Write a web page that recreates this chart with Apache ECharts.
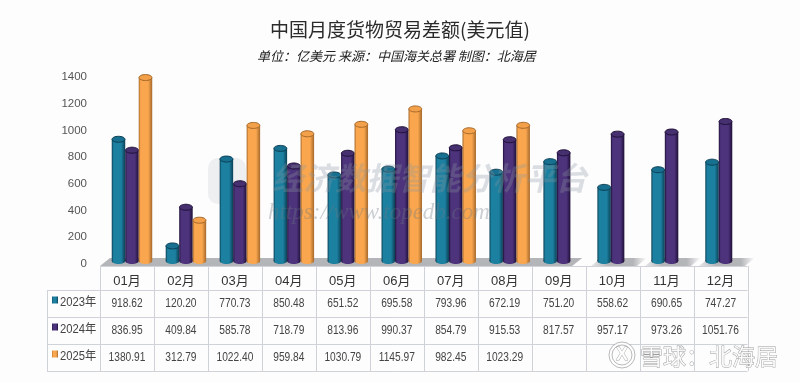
<!DOCTYPE html>
<html>
<head>
<meta charset="utf-8">
<style>
  html, body { margin: 0; padding: 0; background: #fdfdfe; }
  #main { width: 800px; height: 382px; }
</style>
<script src="https://cdn.jsdelivr.net/npm/echarts@6/dist/echarts.min.js"></script>
</head>
<body>
<div id="main"></div>
<script>
const months = ['01月', '02月', '03月', '04月', '05月', '06月', '07月', '08月', '09月', '10月', '11月', '12月'];
const yearNames = ['2023年', '2024年', '2025年'];
const values2023 = [918.62, 120.20, 770.73, 850.48, 651.52, 695.58, 793.96, 672.19, 751.20, 558.62, 690.65, 747.27];
const values2024 = [836.95, 409.84, 585.78, 718.79, 813.96, 990.37, 854.79, 915.53, 817.57, 957.17, 973.26, 1051.76];
const values2025 = [1380.91, 312.79, 1022.40, 959.84, 1030.79, 1145.97, 982.45, 1023.29, null, null, null, null];

const yearValues = [values2023, values2024, values2025];
const edgeColors = ['#0b3f55', '#1f1038', '#a5682a'];
const midColors = ['#1c80a0', '#4d337c', '#f9a64e'];
const capColors = ['#17708f', '#46306f', '#f2a049'];

const FONT = '"Liberation Sans", "Noto Sans CJK SC", sans-serif';
const CJK = '"Noto Sans CJK SC", sans-serif';
const gridLeft = 100, gridTop = 77, gridW = 647.5, gridH = 187;
const colW = gridW / 12;
const tableLeft = 47;
const rowLines = [290, 317, 344, 371];
const tableTop = 266;

function cylinderFill(i) {
  return new echarts.graphic.LinearGradient(0, 0, 1, 0, [
    { offset: 0, color: edgeColors[i] },
    { offset: 0.14, color: midColors[i] },
    { offset: 0.7, color: midColors[i] },
    { offset: 1, color: edgeColors[i] }
  ]);
}

function renderCylinder(params, api) {
  const v = api.value(1);
  if (v == null || isNaN(v)) return;
  const i = params.seriesIndex;
  const pt = api.coord([api.value(0), v]);
  const w = api.size([1, 0])[0] * 0.25;
  const x = pt[0] + (i - 1) * w + 5 - w / 2;
  const top = pt[1] - 2;
  const base = gridTop + gridH - 3;
  const ry = 3;
  const cx = x + w / 2;
  return {
    type: 'group',
    children: [
      { type: 'rect', shape: { x: x, y: top, width: w, height: base - top }, style: { fill: cylinderFill(i) } },
      { type: 'ellipse', shape: { cx: cx, cy: base, rx: w / 2, ry: ry }, style: { fill: cylinderFill(i) } },
      { type: 'ellipse', shape: { cx: cx, cy: top, rx: w / 2 - 0.3, ry: ry }, style: { fill: capColors[i], stroke: edgeColors[i], lineWidth: 1 } }
    ]
  };
}

const graphics = [];
// floor
const floorEnd = gridLeft + colW * 8.75;
graphics.push({
  type: 'polygon', z: 0,
  shape: { points: [[gridLeft, tableTop], [gridLeft + 10, 258], [floorEnd + 10, 258], [floorEnd, tableTop]] },
  style: { fill: '#b4b5b8' }
});
for (let c = 9; c < 12; c++) {
  const a = gridLeft + colW * (c + 0.1);
  const b = gridLeft + colW * (c + 0.95);
  graphics.push({
    type: 'polygon', z: 0,
    shape: { points: [[a, tableTop], [a + 10, 258], [b + 10, 258], [b, tableTop]] },
    style: {
      fill: new echarts.graphic.LinearGradient(0, 0, 1, 0, [
        { offset: 0, color: 'rgba(180,181,184,0.3)' },
        { offset: 0.3, color: '#b4b5b8' },
        { offset: 0.75, color: '#b4b5b8' },
        { offset: 1, color: 'rgba(180,181,184,0)' }
      ])
    }
  });
}
// table lines
const lineStyle = { stroke: '#cfd3d9', lineWidth: 1 };
function hline(x1, x2, y) {
  graphics.push({ type: 'line', z: 1, shape: { x1: x1, y1: y + 0.5, x2: x2, y2: y + 0.5 }, style: lineStyle });
}
function vline(x, y1, y2) {
  const px = Math.round(x) + 0.5;
  graphics.push({ type: 'line', z: 1, shape: { x1: px, y1: y1, x2: px, y2: y2 }, style: lineStyle });
}
hline(gridLeft, gridLeft + gridW, tableTop);
rowLines.forEach(y => hline(tableLeft, gridLeft + gridW, y));
vline(tableLeft, rowLines[0], rowLines[3]);
for (let c = 0; c <= 12; c++) vline(gridLeft + colW * c, tableTop, rowLines[3]);
// table rows, text squeezed a bit like the original
yearNames.forEach((name, r) => {
  const cy = (rowLines[r] + rowLines[r + 1]) / 2;
  graphics.push({
    type: 'rect', z: 2,
    shape: { x: 52, y: cy - 7, width: 6, height: 7 },
    style: { fill: cylinderFill(r) }
  });
  graphics.push({
    type: 'text', z: 2, x: 60, y: cy - 1, scaleX: 0.9,
    style: { text: name, fill: '#444', font: '12.5px ' + FONT, textAlign: 'left', textVerticalAlign: 'middle' }
  });
  yearValues[r].forEach((v, c) => {
    if (v == null) return;
    graphics.push({
      type: 'text', z: 2, x: gridLeft + colW * (c + 0.5), y: cy, scaleX: 0.85,
      style: { text: v.toFixed(2), fill: '#444', font: '12px ' + FONT, textAlign: 'center', textVerticalAlign: 'middle' }
    });
  });
});
// watermarks
graphics.push({
  type: 'rect', z: 1,
  shape: { x: 208, y: 158, width: 38, height: 46, r: 10 },
  style: { fill: 'rgba(150,155,160,0.14)' }
});
graphics.push({
  type: 'text', z: 10, x: 272, y: 178,
  style: { text: '经济数据智能分析平台', fill: 'rgba(140,150,160,0.3)', font: 'italic bold 31.5px ' + CJK, textAlign: 'left', textVerticalAlign: 'middle' }
});
graphics.push({
  type: 'text', z: 10, x: 268, y: 213,
  style: { text: 'https://www.topedb.com', fill: 'rgba(110,120,130,0.35)', font: 'italic 23px "Liberation Serif", serif', textAlign: 'left', textVerticalAlign: 'middle' }
});
graphics.push({
  type: 'ring', z: 11,
  shape: { cx: 622, cy: 355, r: 13, r0: 10 },
  style: { fill: 'rgba(255,255,255,0.85)', stroke: 'rgba(130,130,130,0.7)', lineWidth: 0.8 }
});
graphics.push({
  type: 'text', z: 11, x: 622, y: 355,
  style: { text: 'X', fill: 'rgba(255,255,255,0.9)', stroke: 'rgba(130,130,130,0.7)', lineWidth: 0.8, font: 'bold 18px "Liberation Sans", sans-serif', textAlign: 'center', textVerticalAlign: 'middle' }
});
graphics.push({
  type: 'text', z: 11, x: 640, y: 356,
  style: { text: '雪球：北海居', fill: 'rgba(255,255,255,0.85)', stroke: 'rgba(120,120,120,0.75)', lineWidth: 0.8, font: '23px ' + CJK, textAlign: 'left', textVerticalAlign: 'middle' }
});

const chart = echarts.init(document.getElementById('main'));
chart.setOption({
  animation: false,
  backgroundColor: '#fdfdfe',
  title: [
    {
      text: '中国月度货物贸易差额(美元值)',
      left: 'center',
      top: 15,
      textStyle: { fontSize: 19, fontWeight: 'normal', color: '#2b2b2b', fontFamily: CJK }
    },
    {
      text: '单位：亿美元 来源：中国海关总署 制图：北海居',
      left: 252,
      top: 45,
      textStyle: { fontSize: 13, fontWeight: 'normal', fontStyle: 'italic', color: '#222', fontFamily: CJK }
    }
  ],
  grid: { left: gridLeft, top: gridTop, width: gridW, height: gridH },
  xAxis: {
    type: 'category',
    data: months,
    axisLine: { show: false },
    axisTick: { show: false },
    axisLabel: { color: '#333', fontSize: 13, margin: 11, fontFamily: FONT }
  },
  yAxis: {
    type: 'value',
    min: 0,
    max: 1400,
    interval: 200,
    splitLine: { show: false },
    axisLine: { show: false },
    axisTick: { show: false },
    axisLabel: { color: '#555', fontSize: 11.5, margin: 13, fontFamily: FONT, formatter: v => String(v) }
  },
  series: yearNames.map((name, i) => ({
    type: 'custom',
    name: name,
    z: 3 + i,
    renderItem: renderCylinder,
    encode: { x: 0, y: 1 },
    data: months.map((m, c) => [c, yearValues[i][c]])
  })),
  graphic: { elements: graphics }
});
</script>
</body>
</html>
